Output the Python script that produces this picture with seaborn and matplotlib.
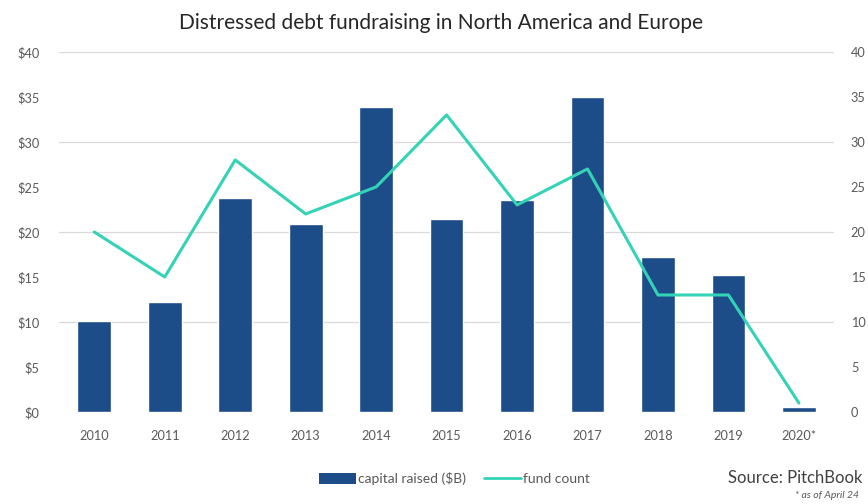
import numpy as np
import pandas as pd
import matplotlib
matplotlib.use("Agg")
import matplotlib.pyplot as plt
import seaborn as sns
from matplotlib.patches import Patch
from matplotlib.lines import Line2D

years = ["2010", "2011", "2012", "2013", "2014", "2015", "2016", "2017", "2018", "2019", "2020*"]
capital_raised = [10.1, 12.2, 23.8, 20.9, 33.9, 21.4, 23.6, 35.0, 17.2, 15.2, 0.6]
fund_count = [20, 15, 28, 22, 25, 33, 23, 27, 13, 13, 1]
left_ticks = [0, 5, 10, 15, 20, 25, 30, 35, 40]

BAR_COLOR = "#1c4d88"
LINE_COLOR = "#34d3b6"
TEXT_COLOR = "#595959"

sns.set_theme(style="white")
plt.rcParams["font.family"] = ["Lato", "DejaVu Sans"]

df = pd.DataFrame({"year": years, "capital": capital_raised, "funds": fund_count,
                   "pos": range(len(years))})

fig = plt.figure(figsize=(8.68, 5.04), dpi=100)
ax = fig.add_axes([0.068, 0.1825, 0.893, 0.7145])

sns.barplot(data=df, x="year", y="capital", color=BAR_COLOR, saturation=1,
            width=0.48, ax=ax, zorder=2)
ax.set_ylim(0, 40)
ax.set_xlim(-0.5, len(years) - 0.5)
ax.set_yticks(left_ticks)
ax.set_yticklabels([f"${v}" for v in left_ticks])
for v in [10, 20, 30, 40]:
    ax.axhline(v, color="#d9d9d9", lw=0.9, zorder=0)
ax.set_xlabel("")
ax.set_ylabel("")
ax.tick_params(axis="both", length=0, labelsize=9.2, labelcolor=TEXT_COLOR)
ax.tick_params(axis="x", pad=13)
ax.tick_params(axis="y", pad=14)
for s in ax.spines.values():
    s.set_visible(False)

ax2 = ax.twinx()
sns.lineplot(data=df, x="pos", y="funds", color=LINE_COLOR, lw=2.2, ax=ax2, zorder=3)
ax2.set_ylim(0, 40)
ax2.set_yticks(left_ticks)
ax2.set_yticklabels([str(v) for v in left_ticks])
ax2.set_ylabel("")
ax2.set_xlabel("")
ax2.tick_params(axis="y", length=0, labelsize=9.2, labelcolor=TEXT_COLOR, pad=12)
for s in ax2.spines.values():
    s.set_visible(False)
ax.set_xlim(-0.5, len(years) - 0.5)

fig.text(0.508, 0.955, "Distressed debt fundraising in North America and Europe",
         ha="center", va="center", fontsize=15, color="#262626")

handles = [Patch(facecolor=BAR_COLOR, edgecolor="none", label="capital raised ($B)"),
           Line2D([0], [0], color=LINE_COLOR, lw=2, label="fund count")]
fig.legend(handles=handles, loc="center", bbox_to_anchor=(0.524, 0.05), ncol=2,
           frameon=False, fontsize=10, labelcolor=TEXT_COLOR, handlelength=2.6,
           handleheight=0.8, columnspacing=1.3, handletextpad=0.2)

fig.text(0.993, 0.052, "Source: PitchBook", ha="right", va="center",
         fontsize=12, color="#404040")
fig.text(0.99, 0.017, "* as of April 24", ha="right", va="center",
         fontsize=7.5, color=TEXT_COLOR, style="italic")

fig.savefig("out.png", dpi=100)
